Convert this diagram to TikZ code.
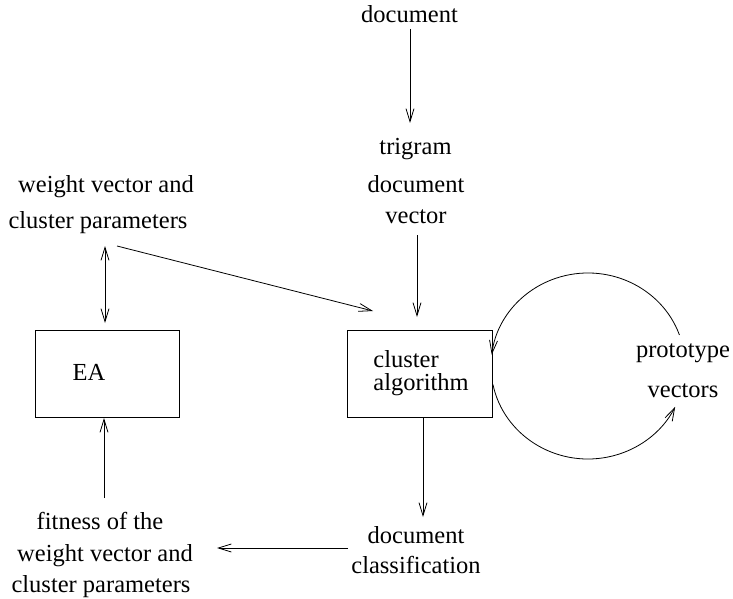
\documentclass[tikz,border=0pt]{standalone}
\usepackage{fontspec}
\setmainfont{Liberation Serif}
\newfontfamily\tmsfont{Liberation Serif}
\usetikzlibrary{arrows.meta}
\begin{document}
\begin{tikzpicture}[x=1pt,y=-1pt,line width=0.8pt,
  lbl/.style={anchor=base,inner sep=0pt,font=\tmsfont\fontsize{24.5}{28}\selectfont},
  lblw/.style={anchor=base west,inner sep=0pt,font=\tmsfont\fontsize{24.5}{28}\selectfont},
  box/.style={draw,minimum height=87pt,inner sep=0pt},
  arr/.style={-{Straight Barb[length=13pt,width=8pt]}},
  darr/.style={{Straight Barb[length=13pt,width=8pt]}-{Straight Barb[length=13pt,width=8pt]}}]
\useasboundingbox (0,0) rectangle (733,599);
% boxes
\node[box,minimum width=144pt] (ea) at (107,373.5) {};
\node[box,minimum width=145pt] (ca) at (419.5,373.5) {};
% texts
\node[lbl] (doc) at (409.5,23) {document};
\node[lbl] (tri1) at (415.5,154) {trigram};
\node[lbl] (tri2) at (416,192) {document};
\node[lbl] (tri3) at (416,223) {vector};
\node[lbl] (wv1) at (106,192) {weight vector and};
\node[lbl] (wv2) at (98,228) {cluster parameters};
\node[lbl] (eatxt) at (89,380) {EA};
\node[lblw] (ca1) at (373,367) {cluster};
\node[lblw] (ca2) at (373,390) {algorithm};
\node[lbl] (pr1) at (683,357) {prototype};
\node[lbl] (pr2) at (683,397) {vectors};
\node[lbl] (dc1) at (416,543) {document};
\node[lbl] (dc2) at (416,573) {classification};
\node[lbl] (ft1) at (100,529) {fitness of the};
\node[lbl] (ft2) at (105,561) {weight vector and};
\node[lbl] (ft3) at (101,592) {cluster parameters};
% connector end points
\coordinate (c1a) at (410,29);  \coordinate (c1b) at (410,123);
\coordinate (c2a) at (417,235); \coordinate (c2b) at (417,317);
\coordinate (c3a) at (105,246); \coordinate (c3b) at (105,323);
\coordinate (c4a) at (117,246); \coordinate (c4b) at (373,311);
\coordinate (c5a) at (423,417); \coordinate (c5b) at (423,517);
\coordinate (c6a) at (348,548); \coordinate (c6b) at (217,548);
\coordinate (c7a) at (104,498); \coordinate (c7b) at (104,418);
\coordinate (oc) at (588,366);
% connectors
\draw[arr] (c1a) -- (c1b);
\draw[arr] (c2a) -- (c2b);
\draw[darr] (c3a) -- (c3b);
\draw[arr] (c4a) -- (c4b);
\draw[arr] (c5a) -- (c5b);
\draw[arr] (c6a) -- (c6b);
\draw[arr] (c7a) -- (c7b);
\draw[arr] (oc) ++(-19.5:97 and 93) arc[start angle=-19.5,end angle=-173,x radius=97,y radius=93];
\draw[arr] (oc) ++(-191.5:97 and 93) arc[start angle=-191.5,end angle=-334,x radius=97,y radius=93];
\end{tikzpicture}
\end{document}
